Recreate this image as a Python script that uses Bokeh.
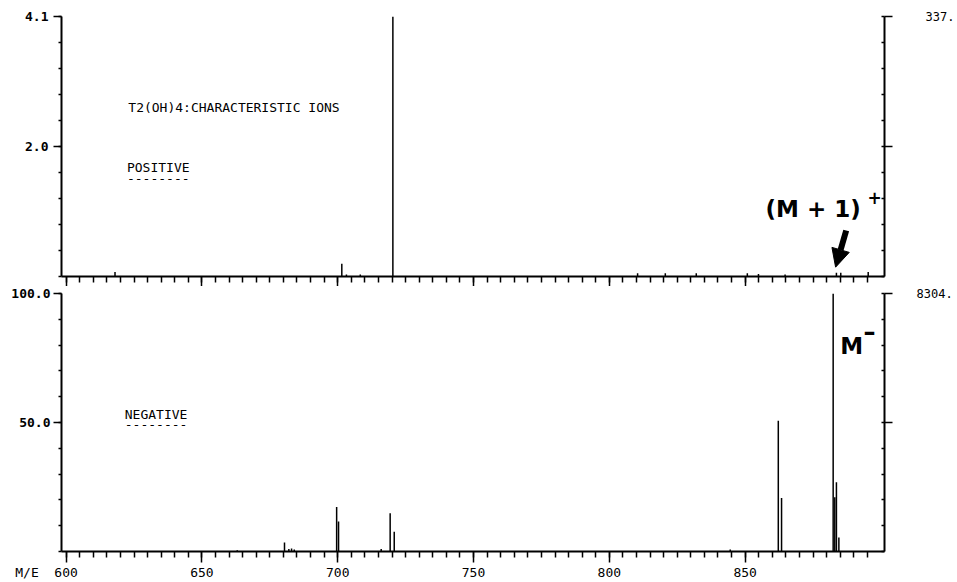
from bokeh.plotting import figure
from bokeh.layouts import column
from bokeh.models import (FixedTicker, LinearAxis, Range1d, Label, Arrow, NormalHead,
                          CustomLabelingPolicy)
from bokeh.embed import file_html
from bokeh.resources import INLINE

# ---------------- data ----------------
# positive-ion spectrum (relative scale 0..4.1, full scale = 337 counts)
pos_mz = [618.0, 701.5, 703.2, 708.3, 720.3, 810.4, 820.6, 832.0, 850.8, 854.9, 864.7, 883.6, 885.2, 895.3]
pos_int = [0.07, 0.20, 0.03, 0.03, 4.10, 0.05, 0.05, 0.05, 0.05, 0.04, 0.03, 0.06, 0.06, 0.07]

# negative-ion spectrum (relative %, full scale = 8304 counts)
neg_mz = [663.0, 680.4, 682.0, 683.0, 684.0, 699.6, 700.3, 716.0, 719.3, 720.8,
          844.5, 862.2, 863.4, 882.4, 883.0, 883.6, 884.5]
neg_int = [0.5, 3.5, 1.0, 1.2, 0.8, 17.2, 11.6, 1.0, 14.8, 7.7,
           0.8, 50.7, 20.7, 100.0, 21.0, 26.8, 5.4]

x_major = [600, 650, 700, 750, 800, 850]
x_minor = list(range(600, 900, 5))
x_labels = {600: "M/E\u00a0\u00a0600" + "\u00a0" * 5}
top_full = 4.1
top_major = [top_full / 2, top_full]
top_minor = [top_full * k / 10 for k in range(11)]
top_left_labels = {top_full: "4.1", top_full / 2: "2.0"}
top_right_labels = {top_full: "337.", top_full / 2: ""}
bot_major = [50, 100]
bot_minor = list(range(0, 101, 10))
bot_left_labels = {100: "100.0", 50: "50.0"}
bot_right_labels = {100: "8304.", 50: ""}

MONO = "DejaVu Sans Mono"
HEAVY = "DejaVu Sans"

X_START, X_END = 598.3, 901.3

HIDE_ALL = CustomLabelingPolicy(code="""
    for (let i = 0; i < indices.size; i++) indices.unset(i)
    return indices
""")
HIDE_FIRST = CustomLabelingPolicy(code="""
    indices.unset(0)
    return indices
""")


def style_common(p):
    p.outline_line_color = None
    p.xgrid.visible = False
    p.ygrid.visible = False
    p.background_fill_color = "white"
    p.border_fill_color = "white"


def style_x(ax, tick_out, show_labels):
    ax.ticker = FixedTicker(ticks=x_major, minor_ticks=x_minor)
    ax.axis_line_width = 2
    ax.axis_line_color = "black"
    ax.major_tick_line_width = 1.5
    ax.minor_tick_line_width = 1.5
    ax.major_tick_out = tick_out
    ax.major_tick_in = 0
    ax.minor_tick_out = 6
    ax.minor_tick_in = 0
    if show_labels:
        ax.major_label_overrides = x_labels
        ax.major_label_text_font = MONO
        ax.major_label_text_font_size = "13px"
        ax.major_label_text_color = "black"
        ax.major_label_standoff = 2
    else:
        ax.major_label_text_font_size = "0px"
        ax.major_label_standoff = 0
        ax.major_label_policy = HIDE_ALL


def style_y(ax, major, minor, labels, side, standoff):
    ax.ticker = FixedTicker(ticks=major, minor_ticks=minor)
    ax.major_label_overrides = labels
    ax.axis_line_width = 2
    ax.axis_line_color = "black"
    ax.major_tick_line_width = 1.5
    ax.minor_tick_line_width = 1.5
    ax.major_tick_out = 8
    ax.major_tick_in = 0
    if side == "left":
        ax.minor_tick_out = 3
        ax.minor_tick_in = 0
        ax.major_label_text_font_style = "bold"
        ax.major_label_text_font_size = "13px"
    else:
        ax.minor_tick_out = 0
        ax.minor_tick_in = 3
        ax.major_label_text_font_size = "12px"
        ax.major_label_policy = HIDE_FIRST
    ax.major_label_text_font = MONO
    ax.major_label_text_color = "black"
    ax.major_label_standoff = standoff


# ---------------- top panel: positive ions ----------------
p1 = figure(width=957, height=286, x_range=Range1d(X_START, X_END), y_range=Range1d(0, top_full),
            output_backend="svg", toolbar_location=None,
            min_border_left=61, min_border_right=70, min_border_top=16, min_border_bottom=10)
style_common(p1)
style_x(p1.xaxis[0], 10, False)
style_y(p1.yaxis[0], top_major, top_minor, top_left_labels, "left", 5)
r1 = LinearAxis()
p1.add_layout(r1, "right")
style_y(r1, top_major, top_minor, top_right_labels, "right", 33)

p1.segment(x0=pos_mz, y0=[0] * len(pos_mz), x1=pos_mz, y1=pos_int, line_color="black", line_width=1.5)

p1.add_layout(Label(x=622.9, y=2.666, text="T2(OH)4:CHARACTERISTIC IONS", text_font=MONO,
                    text_font_size="13px", text_baseline="middle", text_color="black"))
p1.add_layout(Label(x=622.4, y=1.714, text="POSITIVE", text_font=MONO,
                    text_font_size="13px", text_baseline="middle", text_color="black"))
p1.add_layout(Label(x=622.4, y=1.55, text="--------", text_font=MONO,
                    text_font_size="13px", text_baseline="middle", text_color="black"))
p1.add_layout(Label(x=857.5, y=1.057, text="(M + 1)", text_font=HEAVY, text_font_style="bold",
                    text_font_size="23px", text_baseline="middle", text_color="black"))
p1.add_layout(Label(x=895.0, y=1.25, text="+", text_font=HEAVY, text_font_style="bold",
                    text_font_size="17px", text_baseline="middle", text_color="black"))
p1.add_layout(Arrow(end=NormalHead(size=18, fill_color="black", line_color="black"),
                    x_start=887.2, y_start=0.726, x_end=883.3, y_end=0.147,
                    line_width=6, line_color="black"))

# ---------------- bottom panel: negative ions ----------------
p2 = figure(width=957, height=296, x_range=p1.x_range, y_range=Range1d(0, 100),
            output_backend="svg", toolbar_location=None,
            min_border_left=61, min_border_right=70, min_border_top=7, min_border_bottom=31)
style_common(p2)
style_x(p2.xaxis[0], 11, True)
style_y(p2.yaxis[0], bot_major, bot_minor, bot_left_labels, "left", 3)
r2 = LinearAxis()
p2.add_layout(r2, "right")
style_y(r2, bot_major, bot_minor, bot_right_labels, "right", 24)

p2.segment(x0=neg_mz, y0=[0] * len(neg_mz), x1=neg_mz, y1=neg_int, line_color="black", line_width=1.5)

p2.add_layout(Label(x=621.6, y=53.1, text="NEGATIVE", text_font=MONO,
                    text_font_size="13px", text_baseline="middle", text_color="black"))
p2.add_layout(Label(x=621.6, y=49.2, text="--------", text_font=MONO,
                    text_font_size="13px", text_baseline="middle", text_color="black"))
p2.add_layout(Label(x=885.0, y=79.8, text="M", text_font=HEAVY, text_font_style="bold",
                    text_font_size="23px", text_baseline="middle", text_color="black"))
p2.add_layout(Label(x=893.6, y=85.0, text="\u2013", text_font=HEAVY, text_font_style="bold",
                    text_font_size="24px", text_baseline="middle", text_color="black"))

layout = column(p1, p2, spacing=0)
open("out.html", "w").write(file_html(layout, INLINE))
